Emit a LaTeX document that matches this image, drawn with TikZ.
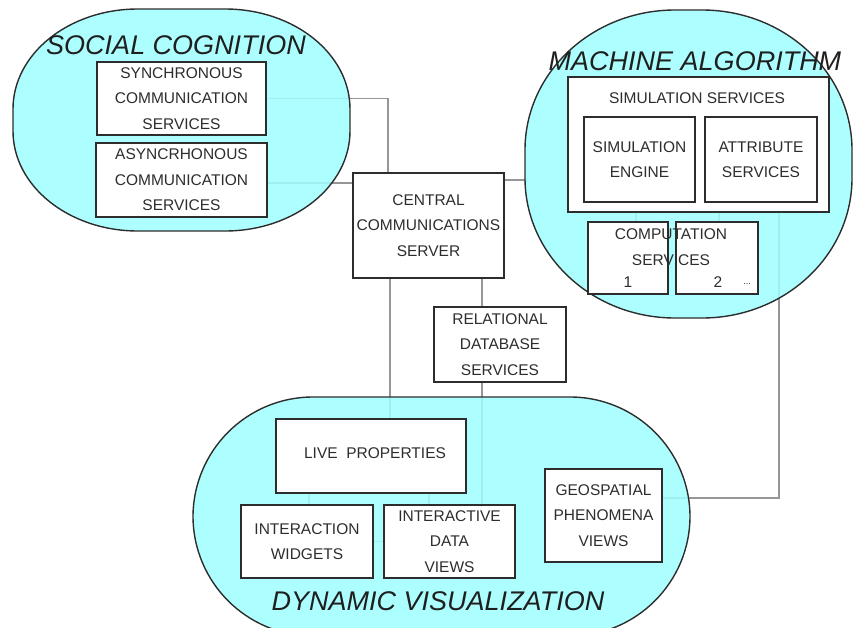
\documentclass[tikz,border=0pt]{standalone}
\usepackage{fontspec}
\setmainfont{Liberation Sans}
\definecolor{cyanfill}{RGB}{160,255,255}
\definecolor{boxedge}{RGB}{45,45,45}
\definecolor{txtcol}{RGB}{45,45,45}
\definecolor{conncol}{RGB}{150,150,150}
\pgfdeclarelayer{connl}
\pgfdeclarelayer{regl}
\pgfsetlayers{connl,regl,main}
\newcommand{\rrpath}[6]{(#1+#5,#2) -- (#3-#5,#2) arc[start angle=270,end angle=360,x radius=#5,y radius=#6] -- (#3,#4-#6) arc[start angle=0,end angle=90,x radius=#5,y radius=#6] -- (#1+#5,#4) arc[start angle=90,end angle=180,x radius=#5,y radius=#6] -- (#1,#2+#6) arc[start angle=180,end angle=270,x radius=#5,y radius=#6] -- cycle}
\tikzset{
  region/.style={fill=cyanfill, fill opacity=0.86, draw=boxedge, draw opacity=1, line width=1.4pt},
  box/.style={draw=boxedge, line width=1.7pt, fill=white, inner sep=0pt, outer sep=0pt, align=center, text=txtcol,
    font=\fontsize{15.5}{25.5}\selectfont},
  boxline/.style={draw=boxedge, line width=1.7pt},
  plaintxt/.style={inner sep=0pt, align=center, text=txtcol, font=\fontsize{15.5}{25.5}\selectfont},
  conn/.style={draw=conncol, line width=1.3pt},
  title/.style={inner sep=0pt, text=black!88, font=\fontsize{27}{30}\selectfont\itshape},
}
\begin{document}
\begin{tikzpicture}[x=1pt,y=-1pt]
\useasboundingbox (0,0) rectangle (854,627);
\clip (0,0) rectangle (854,627);

% regions
\begin{pgfonlayer}{regl}
\path[region] \rrpath{13}{9}{350}{231}{125}{100};
\path[region] \rrpath{525}{10}{852}{318}{150}{140};
\path[region] \rrpath{193}{397}{690}{636}{120}{120};
\end{pgfonlayer}

% titles
\node[title] (tsoc) at (176,45) {SOCIAL COGNITION};
\node[title] (tmach) at (695,61) {MACHINE ALGORITHM};
\node[title] (tdyn) at (438,601) {DYNAMIC VISUALIZATION};

% social cognition
\node[box, minimum width=169, minimum height=73] (sync) at (181.5,98.5) {SYNCHRONOUS\\COMMUNICATION\\SERVICES};
\node[box, minimum width=171, minimum height=74] (async) at (181.5,180) {ASYNCRHONOUS\\COMMUNICATION\\SERVICES};

% central
\node[box, minimum width=151, minimum height=105] (central) at (428.5,225.5) {CENTRAL\\COMMUNICATIONS\\SERVER};
\node[box, minimum width=132, minimum height=75] (rel) at (500,344.5) {RELATIONAL\\DATABASE\\SERVICES};

% machine algorithm
\node[box, minimum width=261, minimum height=135] (simserv) at (698.5,144.5) {};
\node[plaintxt] (simservtxt) at (697,98) {SIMULATION SERVICES};
\node[box, minimum width=111, minimum height=85] (simeng) at (639.5,159.5) {SIMULATION\\ENGINE};
\node[box, minimum width=112, minimum height=85] (attr) at (761,159.5) {ATTRIBUTE\\SERVICES};
\node[box, minimum width=80, minimum height=72] (comp1) at (628,258) {};
\node[box, minimum width=82, minimum height=72] (comp2) at (717,258) {};
\node[plaintxt] (comptxt) at (671,247) {COMPUTATION\\SERVICES};
\node[plaintxt] (c1num) at (628,282) {1};
\node[plaintxt] (c2num) at (718,282) {2};
\node[plaintxt, font=\fontsize{9}{10}\selectfont] (cdots) at (747,284) {...};
\draw[boxline] (comp1.south west) rectangle (comp1.north east);
\draw[boxline] (comp2.south west) rectangle (comp2.north east);

% dynamic visualization
\node[box, minimum width=190, minimum height=74] (live) at (371,456) {};
\node[plaintxt] (livetxt) at (375,453) {LIVE\ \ PROPERTIES};
\node[box, minimum width=132, minimum height=73] (widgets) at (307,541.5) {INTERACTION\\WIDGETS};
\node[box, minimum width=131, minimum height=73] (idv) at (449.5,541.5) {INTERACTIVE\\DATA\\VIEWS};
\node[box, minimum width=117, minimum height=93] (geo) at (603.5,515.5) {GEOSPATIAL\\PHENOMENA\\VIEWS};

\coordinate (mleft) at (527,180);

% connectors
\begin{pgfonlayer}{connl}
\draw[conn] (sync.east) -| (central.north -| 388,0);
\draw[conn] ([yshift=-3pt]async.east) -- ([yshift=-3pt]async.east -| central.west);
\draw[conn] (central.east |- mleft) -- (mleft);
\draw[conn] (central.south -| 390,0) -- (live.north -| 390,0);
\draw[conn] (central.south -| 482,0) -- (rel.north -| 482,0);
\draw[conn] (rel.south -| 482,0) -- (idv.north -| 482,0);
\draw[conn] (live.south -| 309,0) -- (widgets.north -| 309,0);
\draw[conn] (live.south -| 429,0) -- (idv.north -| 429,0);
\draw[conn] (widgets.east) -- (idv.west);
\draw[conn] (simserv.south -| 636,0) -- (comp1.north -| 636,0);
\draw[conn] (simserv.south -| 719,0) -- (comp2.north -| 719,0);
\draw[conn] (simserv.south -| 779,0) |- (geo.east |- 0,498);
\end{pgfonlayer}
\end{tikzpicture}
\end{document}
